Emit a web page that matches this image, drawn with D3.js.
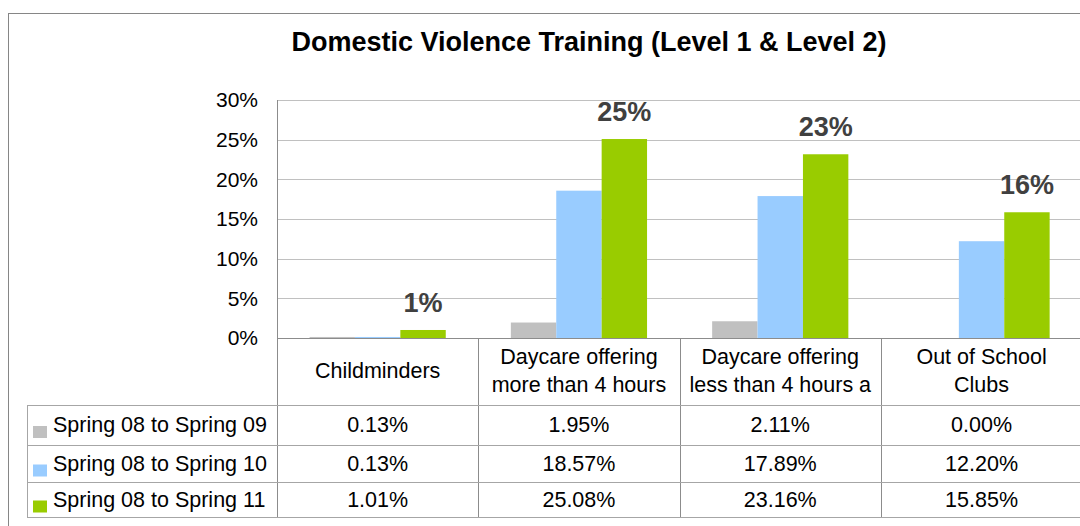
<!DOCTYPE html>
<html>
<head>
<meta charset="utf-8">
<script src="https://cdn.jsdelivr.net/npm/d3@7"></script>
<style>
  body { margin: 0; background: #fff; }
  svg { display: block; font-family: "Liberation Sans", Arial, sans-serif; }
</style>
</head>
<body>
<svg id="chart" width="1080" height="526"></svg>
<script>
var title = "Domestic Violence Training (Level 1 & Level 2)";
var categories = ["Childminders", "Daycare offering more than 4 hours", "Daycare offering less than 4 hours a", "Out of School Clubs"];
var headerLines = [["Childminders"], ["Daycare offering", "more than 4 hours"], ["Daycare offering", "less than 4 hours a"], ["Out of School", "Clubs"]];
var series = ["Spring 08 to Spring 09", "Spring 08 to Spring 10", "Spring 08 to Spring 11"];
var spring09 = [0.0013, 0.0195, 0.0211, 0.0000];
var spring10 = [0.0013, 0.1857, 0.1789, 0.1220];
var spring11 = [0.0101, 0.2508, 0.2316, 0.1585];
var yTicks = [0, 0.05, 0.10, 0.15, 0.20, 0.25, 0.30];
var colors = ["#c0c0c0", "#99ccff", "#99cc00"];

var values = [spring09, spring10, spring11];
var data = [];
series.forEach((s, i) => {
  categories.forEach((c, j) => {
    data.push({series: s, cat: c, value: values[i][j], si: i});
  });
});

var svg = d3.select("#chart");
var plot = {left: 277, top: 100, bottom: 338, catW: 201.3};
var rows = [405, 445, 482, 517];
var fs = 21.5;

// outer border (clipped by the window on the right and bottom)
svg.append("rect")
   .attr("x", 8.5).attr("y", 13.5)
   .attr("width", 1100).attr("height", 600)
   .attr("fill", "none").attr("stroke", "#868686");

svg.append("text")
   .attr("x", 589).attr("y", 51)
   .attr("text-anchor", "middle")
   .attr("font-size", 27).attr("font-weight", "bold")
   .text(title);

var x = d3.scaleBand()
          .domain(categories)
          .range([plot.left, plot.left + plot.catW * categories.length])
          .padding(0);
var xs = d3.scaleBand()
           .domain(series)
           .range([0, x.bandwidth()])
           .paddingInner(0)
           .paddingOuter(0.717);
var y = d3.scaleLinear()
          .domain([0, 0.30])
          .range([plot.bottom, plot.top]);

// gridlines
svg.append("g")
   .selectAll("line")
   .data(yTicks.slice(1))
   .enter().append("line")
   .attr("x1", plot.left).attr("x2", 1080)
   .attr("y1", d => Math.round(y(d)) + 0.5).attr("y2", d => Math.round(y(d)) + 0.5)
   .attr("stroke", "#c0c0c0");

var yAxis = svg.append("g")
   .attr("transform", `translate(${plot.left},0)`)
   .call(d3.axisLeft(y).tickValues(yTicks).tickFormat(d3.format(".0%")).tickSize(0).tickPadding(19));
yAxis.select(".domain").remove();
yAxis.selectAll("text").attr("font-size", 21).attr("fill", "#000")
     .attr("font-family", "'Liberation Sans', Arial, sans-serif");

// bars
svg.append("g")
   .selectAll("rect")
   .data(data.filter(d => d.value > 0))
   .enter().append("rect")
   .attr("x", d => x(d.cat) + xs(d.series))
   .attr("width", xs.bandwidth())
   .attr("y", d => y(d.value))
   .attr("height", d => y(0) - y(d.value))
   .attr("fill", d => colors[d.si]);

// data labels on last series
svg.append("g")
   .selectAll("text")
   .data(data.filter(d => d.si == 2))
   .enter().append("text")
   .attr("x", d => x(d.cat) + xs(d.series) + xs.bandwidth() / 2)
   .attr("y", d => y(d.value) - 18)
   .attr("text-anchor", "middle")
   .attr("font-size", 27).attr("font-weight", "bold")
   .attr("fill", "#404040")
   .text(d => d3.format(".0%")(d.value));

// axes lines
var grid = svg.append("g").attr("stroke", "#8c8c8c").attr("shape-rendering", "crispEdges");
grid.append("line").attr("x1", plot.left + 0.5).attr("x2", plot.left + 0.5)
    .attr("y1", plot.top).attr("y2", rows[3]);
grid.append("line").attr("x1", plot.left).attr("x2", 1080)
    .attr("y1", plot.bottom + 0.5).attr("y2", plot.bottom + 0.5);

// data table
var table = svg.append("g").attr("stroke", "#a6a6a6").attr("shape-rendering", "crispEdges");
rows.forEach(r => {
  table.append("line").attr("x1", 27).attr("x2", 1080)
       .attr("y1", r + 0.5).attr("y2", r + 0.5);
});
table.append("line").attr("x1", 27.5).attr("x2", 27.5).attr("y1", rows[0]).attr("y2", rows[3]);
categories.slice(1).forEach(c => {
  grid.append("line").attr("x1", Math.round(x(c)) + 0.5).attr("x2", Math.round(x(c)) + 0.5)
      .attr("y1", plot.bottom).attr("y2", rows[3]);
});

// header labels
categories.forEach((c, j) => {
  var lines = headerLines[j];
  var t = svg.append("text")
             .attr("text-anchor", "middle")
             .attr("font-size", fs);
  lines.forEach((l, k) => {
    var base = lines.length == 1 ? 378 : 364 + k * 28;
    t.append("tspan").attr("x", x(c) + x.bandwidth() / 2).attr("y", base).text(l);
  });
});

// row labels with swatches
series.forEach((s, i) => {
  var cy = (rows[i] + rows[i + 1]) / 2;
  svg.append("rect")
     .attr("x", 33).attr("y", cy + 1).attr("width", 14).attr("height", 12)
     .attr("fill", colors[i]);
  svg.append("text")
     .attr("x", 53).attr("y", cy + 7)
     .attr("font-size", fs)
     .text(s);
  categories.forEach((c, j) => {
    svg.append("text")
       .attr("x", x(c) + x.bandwidth() / 2).attr("y", cy + 7)
       .attr("text-anchor", "middle")
       .attr("font-size", fs)
       .text(d3.format(".2%")(values[i][j]));
  });
});
</script>
</body>
</html>
